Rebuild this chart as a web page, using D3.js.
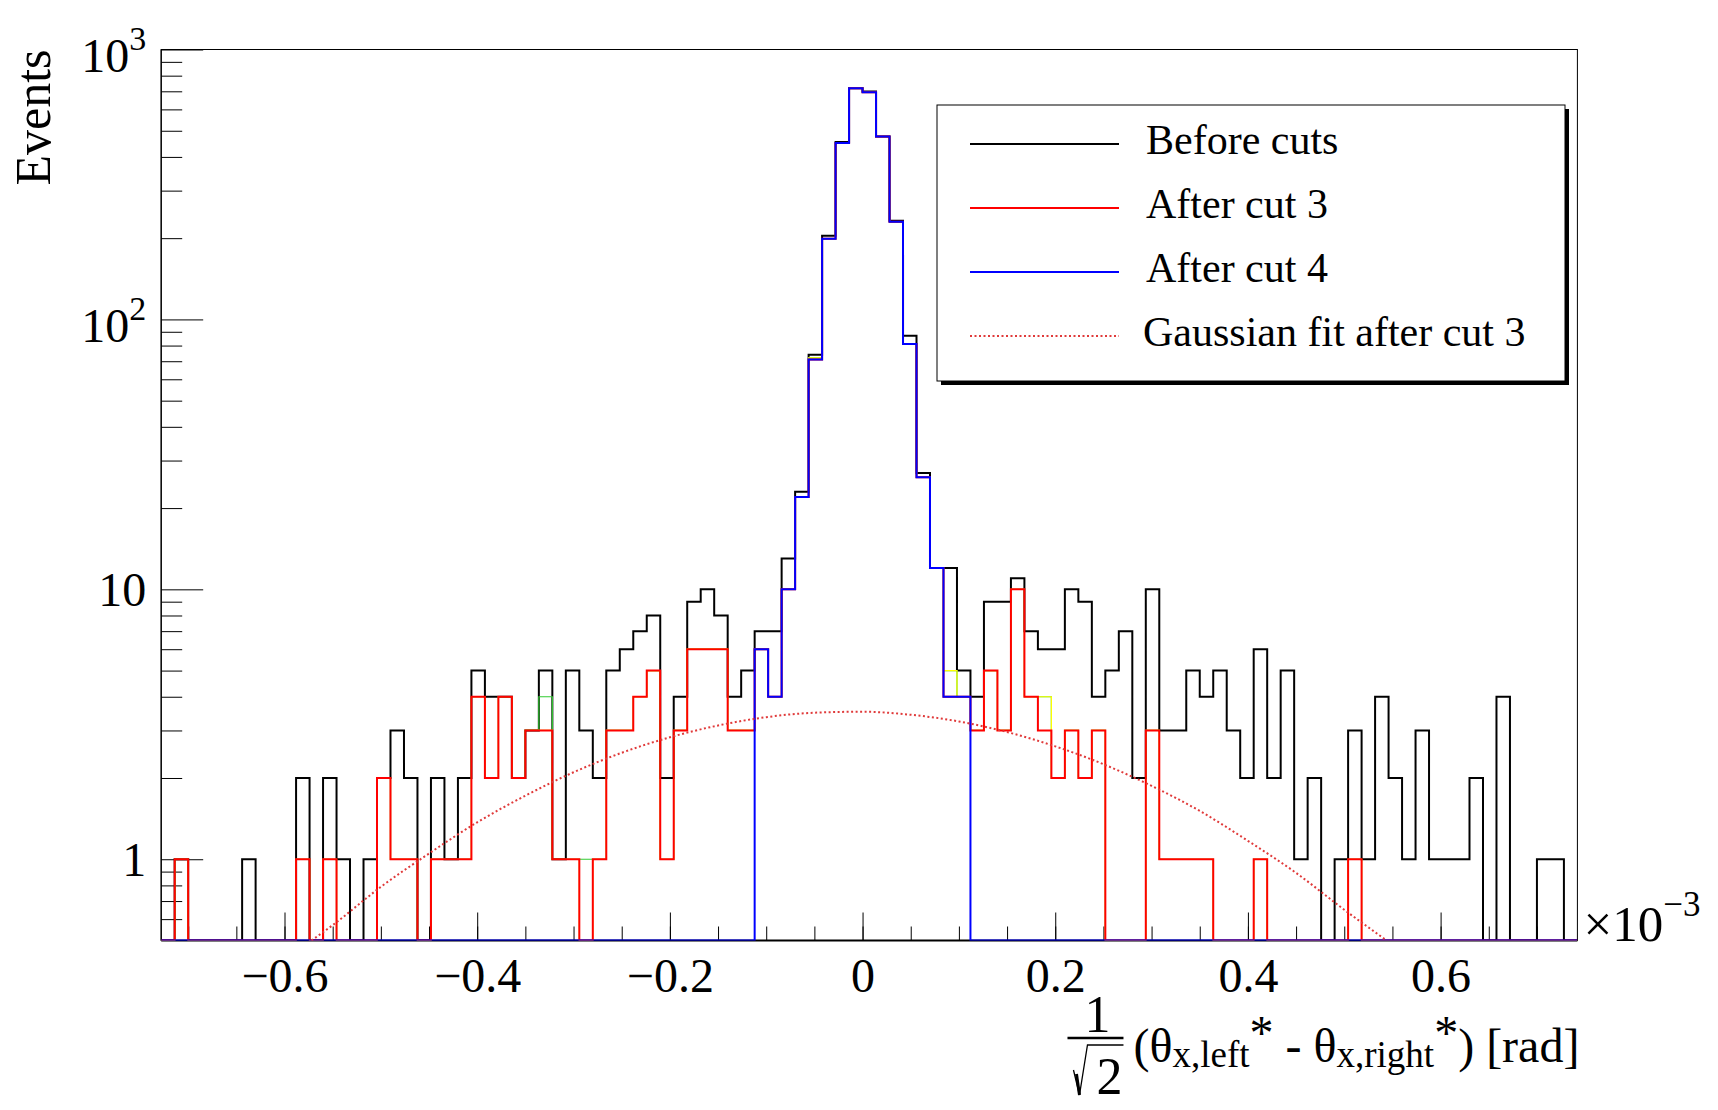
<!DOCTYPE html>
<html>
<head>
<meta charset="utf-8">
<script src="https://cdn.jsdelivr.net/npm/d3@7"></script>
<style>
  body { margin: 0; background: #fff; }
  svg { display: block; font-family: "Liberation Serif", "Times New Roman", serif; }
</style>
</head>
<body>
<div class="chart"></div>
<script>
// binning shared by all histograms (units of 1e-3 rad)
const xMin = -0.728;
const binWidth = 0.014;
const nBins = 105;

// bin contents (0 = empty bin)
const beforeCuts = [
  0, 1, 0, 0, 0, 0, 1, 0, 0, 0,
  2, 0, 2, 1, 0, 1, 2, 3, 2, 0,
  2, 1, 2, 5, 4, 4, 2, 3, 5, 1,
  5, 3, 2, 5, 6, 7, 8, 2, 4, 9,
  10, 8, 4, 5, 7, 7, 13, 23, 74, 204,
  454, 718, 699, 476, 232, 87, 27, 12, 12, 5,
  4, 9, 9, 11, 7, 6, 6, 10, 9, 4,
  5, 7, 2, 10, 3, 3, 5, 4, 5, 3,
  2, 6, 2, 5, 1, 2, 0, 1, 3, 1,
  4, 2, 1, 3, 1, 1, 1, 2, 0, 4,
  0, 0, 1, 1, 0
];
const afterCut1 = [
  0, 1, 0, 0, 0, 0, 0, 0, 0, 0,
  1, 0, 1, 0, 0, 0, 2, 1, 1, 0,
  1, 1, 1, 4, 2, 4, 2, 3, 4, 1,
  1, 1, 1, 3, 3, 4, 5, 1, 3, 6,
  6, 6, 3, 3, 6, 4, 10, 22, 72, 199,
  450, 718, 694, 476, 230, 81, 26, 12, 5, 4,
  3, 5, 3, 10, 4, 4, 2, 3, 2, 3,
  0, 0, 0, 3, 1, 1, 1, 1, 0, 0,
  0, 1, 0, 0, 0, 0, 0, 0, 1, 0,
  0, 0, 0, 0, 0, 0, 0, 0, 0, 0,
  0, 0, 0, 0, 0
];
const afterCut2 = [
  0, 1, 0, 0, 0, 0, 0, 0, 0, 0,
  1, 0, 1, 0, 0, 0, 2, 1, 1, 0,
  1, 1, 1, 4, 2, 4, 2, 3, 3, 1,
  1, 0, 1, 3, 3, 4, 5, 1, 3, 6,
  6, 6, 3, 3, 6, 4, 10, 22, 72, 199,
  450, 718, 694, 476, 230, 81, 26, 12, 5, 4,
  3, 5, 3, 10, 4, 4, 2, 3, 2, 3,
  0, 0, 0, 3, 1, 1, 1, 1, 0, 0,
  0, 1, 0, 0, 0, 0, 0, 0, 1, 0,
  0, 0, 0, 0, 0, 0, 0, 0, 0, 0,
  0, 0, 0, 0, 0
];
const afterCut3 = [
  0, 1, 0, 0, 0, 0, 0, 0, 0, 0,
  1, 0, 1, 0, 0, 0, 2, 1, 1, 0,
  1, 1, 1, 4, 2, 4, 2, 3, 3, 1,
  1, 0, 1, 3, 3, 4, 5, 1, 3, 6,
  6, 6, 3, 3, 6, 4, 10, 22, 71, 199,
  450, 718, 694, 476, 230, 81, 26, 12, 4, 4,
  3, 5, 3, 10, 4, 3, 2, 3, 2, 3,
  0, 0, 0, 3, 1, 1, 1, 1, 0, 0,
  0, 1, 0, 0, 0, 0, 0, 0, 1, 0,
  0, 0, 0, 0, 0, 0, 0, 0, 0, 0,
  0, 0, 0, 0, 0
];
const afterCut4 = [
  0, 0, 0, 0, 0, 0, 0, 0, 0, 0,
  0, 0, 0, 0, 0, 0, 0, 0, 0, 0,
  0, 0, 0, 0, 0, 0, 0, 0, 0, 0,
  0, 0, 0, 0, 0, 0, 0, 0, 0, 0,
  0, 0, 0, 0, 6, 4, 10, 22, 71, 199,
  450, 718, 694, 476, 230, 81, 26, 12, 4, 4,
  0, 0, 0, 0, 0, 0, 0, 0, 0, 0,
  0, 0, 0, 0, 0, 0, 0, 0, 0, 0,
  0, 0, 0, 0, 0, 0, 0, 0, 0, 0,
  0, 0, 0, 0, 0, 0, 0, 0, 0, 0,
  0, 0, 0, 0, 0
];

// gaussian fit after cut 3
const fitX = [-0.572, -0.55, -0.5, -0.45, -0.4, -0.35, -0.3, -0.25, -0.2, -0.15, -0.1, -0.05,
              0, 0.05, 0.1, 0.15, 0.2, 0.25, 0.3, 0.35, 0.4, 0.45, 0.5, 0.544];
const fitY = [0.5, 0.57, 0.79, 1.05, 1.37, 1.72, 2.10, 2.48, 2.83, 3.13, 3.36, 3.49,
              3.52, 3.43, 3.24, 2.96, 2.62, 2.25, 1.87, 1.51, 1.17, 0.89, 0.65, 0.5];

const xMajorTicks = [-0.6, -0.4, -0.2, 0, 0.2, 0.4, 0.6];
const xTickLabels = ["\u22120.6", "\u22120.4", "\u22120.2", "0", "0.2", "0.4", "0.6"];
const yMajorTicks = [1, 10, 100, 1000];
const yTickBase = ["1", "10", "10", "10"];
const yTickExp = ["", "", "2", "3"];

const legendLabels = ["Before cuts", "After cut 3", "After cut 4", "Gaussian fit after cut 3"];


const width = 1718, height = 1110;
const margin = {top: 49.5, right: 140.6, bottom: 169.5, left: 161.2};
const fontFamily = '"Liberation Serif", "Times New Roman", serif';

const svg = d3.select(".chart").append("svg")
    .attr("width", width)
    .attr("height", height);

svg.append("rect").attr("width", width).attr("height", height).attr("fill", "#fff");

const x = d3.scaleLinear()
    .domain([xMin, xMin + nBins * binWidth])
    .range([margin.left, width - margin.right]);

const y = d3.scaleLog()
    .domain([0.5, 1000])
    .range([height - margin.bottom, margin.top]);

const bottom = y.range()[0];

svg.append("clipPath").attr("id", "frameClip")
    .append("rect")
    .attr("x", x.range()[0]).attr("y", y.range()[1])
    .attr("width", x.range()[1] - x.range()[0])
    .attr("height", y.range()[0] - y.range()[1]);

// frame
svg.append("rect")
    .attr("x", x.range()[0]).attr("y", y.range()[1])
    .attr("width", x.range()[1] - x.range()[0])
    .attr("height", y.range()[0] - y.range()[1])
    .attr("fill", "none").attr("stroke", "#000").attr("stroke-width", 1);

// x axis: minor + major ticks pointing into the frame
const xMinor = d3.range(-14, 15).map(k => k * 0.05).filter(v => v >= x.domain()[0] && v <= x.domain()[1]);

svg.append("g")
    .attr("transform", `translate(0,${bottom})`)
    .call(d3.axisBottom(x).tickValues(xMinor).tickSize(-14).tickFormat(""))
    .call(g => g.select(".domain").remove())
    .call(g => g.selectAll("line").attr("stroke-width", 1));

svg.append("g")
    .attr("class", "xaxis")
    .attr("transform", `translate(0,${bottom})`)
    .call(d3.axisBottom(x).tickValues(xMajorTicks).tickSize(-28).tickPadding(17)
        .tickFormat((d, i) => xTickLabels[i]))
    .call(g => g.select(".domain").remove())
    .call(g => g.selectAll("line").attr("stroke-width", 1))
    .call(g => g.selectAll("text")
        .attr("font-family", fontFamily)
        .attr("font-size", 48)
        .attr("fill", "#000"));

svg.append("line")
    .attr("x1", x.range()[0]).attr("x2", x.range()[1])
    .attr("y1", bottom).attr("y2", bottom)
    .attr("stroke", "#000").attr("stroke-width", 2);

// y axis (log)
const yMinor = [0.1, 1, 10, 100]
    .flatMap(d => [2, 3, 4, 5, 6, 7, 8, 9].map(k => k * d))
    .filter(v => v > 0.5 && v < 1000);

svg.append("g")
    .attr("transform", `translate(${margin.left},0)`)
    .call(d3.axisLeft(y).tickValues(yMinor).tickSize(-21).tickFormat(""))
    .call(g => g.select(".domain").remove())
    .call(g => g.selectAll("line").attr("stroke-width", 1));

svg.append("g")
    .attr("transform", `translate(${margin.left},0)`)
    .call(d3.axisLeft(y).tickValues(yMajorTicks).tickSize(-42).tickFormat(""))
    .call(g => g.select(".domain").remove())
    .call(g => g.selectAll("line").attr("stroke-width", 1));

svg.append("line")
    .attr("x1", margin.left).attr("x2", margin.left)
    .attr("y1", y.range()[0]).attr("y2", y.range()[1])
    .attr("stroke", "#000").attr("stroke-width", 1.2);

const yLabels = svg.append("g")
    .attr("font-family", fontFamily)
    .attr("text-anchor", "end");

yMajorTicks.forEach((v, i) => {
    const t = yLabels.append("text")
        .attr("x", margin.left - 15)
        .attr("y", y(v) + (yTickExp[i] ? 22.5 : 17))
        .attr("font-size", 48);
    t.append("tspan").text(yTickBase[i]);
    if (yTickExp[i]) {
        t.append("tspan").attr("font-size", 34).attr("dy", -22).text(yTickExp[i]);
    }
});

// histograms
const histLine = d3.line()
    .x(d => x(d[0]))
    .y(d => d[1] > 0 ? y(d[1]) : bottom);

function histPoints(values) {
    const pts = [[xMin, 0]];
    values.forEach((v, i) => {
        pts.push([xMin + i * binWidth, v]);
        pts.push([xMin + (i + 1) * binWidth, v]);
    });
    pts.push([xMin + nBins * binWidth, 0]);
    return pts;
}

const series = [
    {name: "Before cuts", values: beforeCuts, color: "#000000", width: 2},
    {name: "After cut 1", values: afterCut1, color: "#33cc33", width: 1.2},
    {name: "After cut 2", values: afterCut2, color: "#ffff00", width: 1.2},
    {name: "After cut 3", values: afterCut3, color: "#ff0000", width: 2},
    {name: "After cut 4", values: afterCut4, color: "#0000ff", width: 2}
];

const plot = svg.append("g").attr("clip-path", "url(#frameClip)");

plot.selectAll("path.hist")
    .data(series)
    .join("path")
    .attr("class", "hist")
    .attr("d", d => histLine(histPoints(d.values)))
    .attr("fill", "none")
    .attr("stroke", d => d.color)
    .attr("stroke-width", d => d.width)
    .attr("stroke-linejoin", "miter");

// gaussian fit
const fitLine = d3.line()
    .x(d => x(d[0]))
    .y(d => y(d[1]))
    .curve(d3.curveMonotoneX);

plot.append("path")
    .attr("d", fitLine(fitX.map((v, i) => [v, fitY[i]])))
    .attr("fill", "none")
    .attr("stroke", "#e03a3a")
    .attr("stroke-width", 2)
    .attr("stroke-dasharray", "2,2.5");

// legend
const legend = svg.append("g").attr("font-family", fontFamily);
const lgX = 937, lgY = 105, lgW = 628, lgH = 276;

legend.append("rect")
    .attr("x", lgX + 4).attr("y", lgY + 4).attr("width", lgW).attr("height", lgH)
    .attr("fill", "#000");
legend.append("rect")
    .attr("x", lgX).attr("y", lgY).attr("width", lgW).attr("height", lgH)
    .attr("fill", "#fff").attr("stroke", "#000").attr("stroke-width", 1);

const rowY = d3.scalePoint().domain(legendLabels).range([144, 336]);
const legendStyle = [
    {color: "#000000", dash: null},
    {color: "#ff0000", dash: null},
    {color: "#0000ff", dash: null},
    {color: "#e03a3a", dash: "2,2.5"}
];

legendLabels.forEach((label, i) => {
    const ly = rowY(label);
    legend.append("line")
        .attr("x1", 970).attr("x2", 1119)
        .attr("y1", ly).attr("y2", ly)
        .attr("stroke", legendStyle[i].color)
        .attr("stroke-width", 2)
        .attr("stroke-dasharray", legendStyle[i].dash);
    legend.append("text")
        .attr("x", i === 3 ? 1143 : 1146).attr("y", ly + 10)
        .attr("font-size", 42)
        .text(label);
});

// axis titles
svg.append("text")
    .attr("transform", `translate(50,${margin.top}) rotate(-90)`)
    .attr("text-anchor", "end")
    .attr("font-family", fontFamily)
    .attr("font-size", 50)
    .text("Events");

const xTitle = svg.append("text")
    .attr("x", x.range()[1] + 2)
    .attr("y", 1061.7)
    .attr("text-anchor", "end")
    .attr("font-family", fontFamily)
    .attr("font-size", 48);

xTitle.append("tspan").text("(\u03b8");
xTitle.append("tspan").attr("font-size", 37).attr("dy", 5).text("x,left");
xTitle.append("tspan").attr("dy", -17.5).text("*");
xTitle.append("tspan").attr("dy", 12.5).text(" - \u03b8");
xTitle.append("tspan").attr("font-size", 37).attr("dy", 5).text("x,right");
xTitle.append("tspan").attr("dy", -17.5).text("*");
xTitle.append("tspan").attr("dy", 12.5).text(") [rad]");

// 1/sqrt(2) factor left of the title
const tb = xTitle.node().getBBox();
const fracR = tb.x - 10, fracL = fracR - 56;
const frac = svg.append("g").attr("font-family", fontFamily).attr("font-size", 52);
frac.append("line")
    .attr("x1", fracL).attr("x2", fracR)
    .attr("y1", 1038).attr("y2", 1038)
    .attr("stroke", "#000").attr("stroke-width", 2.6);
frac.append("text")
    .attr("x", (fracL + fracR) / 2 + 2).attr("y", 1032)
    .attr("text-anchor", "middle")
    .text("1");
frac.append("text")
    .attr("x", fracR - 14).attr("y", 1094)
    .attr("text-anchor", "middle")
    .text("2");
frac.append("path")
    .attr("d", `M${fracL + 6},${1070}L${fracL + 12},${1095}L${fracL + 20},${1045}L${fracR},${1045}`)
    .attr("fill", "none")
    .attr("stroke", "#000")
    .attr("stroke-width", 1.3);
frac.append("path")
    .attr("d", `M${fracL + 9},${1074}L${fracL + 12},${1095}`)
    .attr("stroke", "#000")
    .attr("stroke-width", 3);

// exponent of the x axis
const xExp = svg.append("text")
    .attr("x", x.range()[1] + 6)
    .attr("y", bottom)
    .attr("font-family", fontFamily)
    .attr("font-size", 51);
xExp.append("tspan").text("\u00d710");
xExp.append("tspan").attr("font-size", 35).attr("dy", -25).text("\u22123");
</script>
</body>
</html>
